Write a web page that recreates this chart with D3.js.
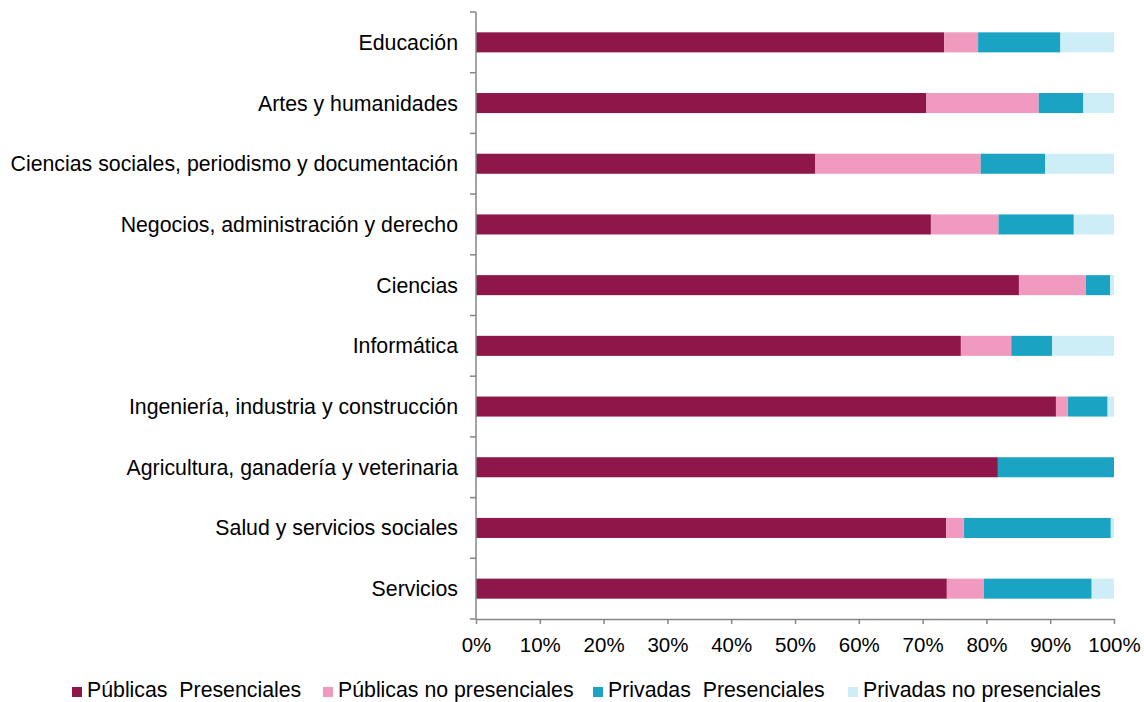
<!DOCTYPE html>
<html>
<head>
<meta charset="utf-8">
<script src="https://cdn.jsdelivr.net/npm/d3@7"></script>
<style>
  body { margin: 0; background: #fff; }
  text { font-family: "Liberation Sans", Arial, sans-serif; fill: #000; }
</style>
</head>
<body>
<svg id="chart" width="1144" height="702"></svg>
<script>
// categories, top to bottom
let categories = ["Educación", "Artes y humanidades", "Ciencias sociales, periodismo y documentación",
  "Negocios, administración y derecho", "Ciencias", "Informática", "Ingeniería, industria y construcción",
  "Agricultura, ganadería y veterinaria", "Salud y servicios sociales", "Servicios"];

let seriesNames = ["Públicas  Presenciales", "Públicas no presenciales", "Privadas  Presenciales", "Privadas no presenciales"];
let colors = ["#8e1649", "#f09ac0", "#1ba3c3", "#cdeef7"];

// percentages per series
let publicasPres = [73.4, 70.6, 53.2, 71.3, 85.1, 76.0, 90.9, 81.8, 73.7, 73.8];
let publicasNoPres = [5.3, 17.6, 25.9, 10.6, 10.5, 7.9, 1.9, 0.0, 2.8, 5.8];
let privadasPres = [12.9, 7.0, 10.1, 11.8, 3.8, 6.4, 6.2, 18.2, 23.0, 16.9];
let privadasNoPres = [8.4, 4.8, 10.8, 6.3, 0.6, 9.7, 1.0, 0.0, 0.5, 3.5];

let xTicks = [0, 10, 20, 30, 40, 50, 60, 70, 80, 90, 100];

let svg = d3.select("#chart");
let margin = {left: 476, right: 30, top: 12, bottom: 83};
let width = 1144 - margin.left - margin.right;
let height = 702 - margin.top - margin.bottom;
let g = svg.append("g").attr("transform", `translate(${margin.left},${margin.top})`);

let rows = categories.map((c, i) => ({
  cat: c, s0: publicasPres[i], s1: publicasNoPres[i], s2: privadasPres[i], s3: privadasNoPres[i]
}));
let stack = d3.stack().keys(["s0", "s1", "s2", "s3"])(rows);

let x = d3.scaleLinear().domain([0, 100]).range([0, width]);
let y = d3.scaleBand().domain(categories).range([0, height]).paddingInner(0.67).paddingOuter(0.335);
let yBand = d3.scaleBand().domain(categories).range([0, height]);

// bars
g.selectAll("g.series").data(stack).join("g").attr("class", "series")
  .attr("fill", (d, i) => colors[i])
  .selectAll("rect").data(d => d).join("rect")
  .attr("x", d => x(d[0]))
  .attr("width", d => x(d[1]) - x(d[0]))
  .attr("y", d => y(d.data.cat))
  .attr("height", y.bandwidth());

// y axis: line + ticks at band edges
let axisColor = "#868686";
g.append("line").attr("x1", 0).attr("x2", 0).attr("y1", 0).attr("y2", height)
  .attr("stroke", axisColor).attr("stroke-width", 1.5);
let edges = categories.map(c => yBand(c)).concat([height]);
g.selectAll("line.ytick").data(edges).join("line").attr("class", "ytick")
  .attr("x1", -6).attr("x2", 0).attr("y1", d => d).attr("y2", d => d)
  .attr("stroke", axisColor).attr("stroke-width", 1.5);
g.selectAll("text.ylab").data(categories).join("text").attr("class", "ylab")
  .attr("x", -18).attr("y", d => yBand(d) + yBand.bandwidth() / 2)
  .attr("dy", "0.35em").attr("text-anchor", "end").attr("font-size", 21.3)
  .text(d => d);

// x axis
let xAxis = g.append("g").attr("transform", `translate(0,${height})`)
  .call(d3.axisBottom(x).tickValues(xTicks).tickSize(5).tickSizeOuter(0).tickFormat(d => d + "%"));
xAxis.select(".domain").attr("stroke", axisColor).attr("stroke-width", 1.5);
xAxis.selectAll(".tick line").attr("stroke", axisColor).attr("stroke-width", 1.5);
xAxis.selectAll(".tick text").attr("font-size", 20.5).attr("y", 33).attr("dy", 0)
  .attr("font-family", "Liberation Sans, Arial, sans-serif").attr("fill", "#000");

// legend
let legendX = [72, 323, 593, 848];
let legend = svg.append("g").selectAll("g").data(seriesNames).join("g")
  .attr("transform", (d, i) => `translate(${legendX[i]},697)`);
legend.append("rect").attr("x", 0).attr("y", -10).attr("width", 10).attr("height", 10)
  .attr("fill", (d, i) => colors[i]);
legend.append("text").attr("x", 15).attr("font-size", 21.3)
  .attr("xml:space", "preserve").style("white-space", "pre").text(d => d);
</script>
</body>
</html>
